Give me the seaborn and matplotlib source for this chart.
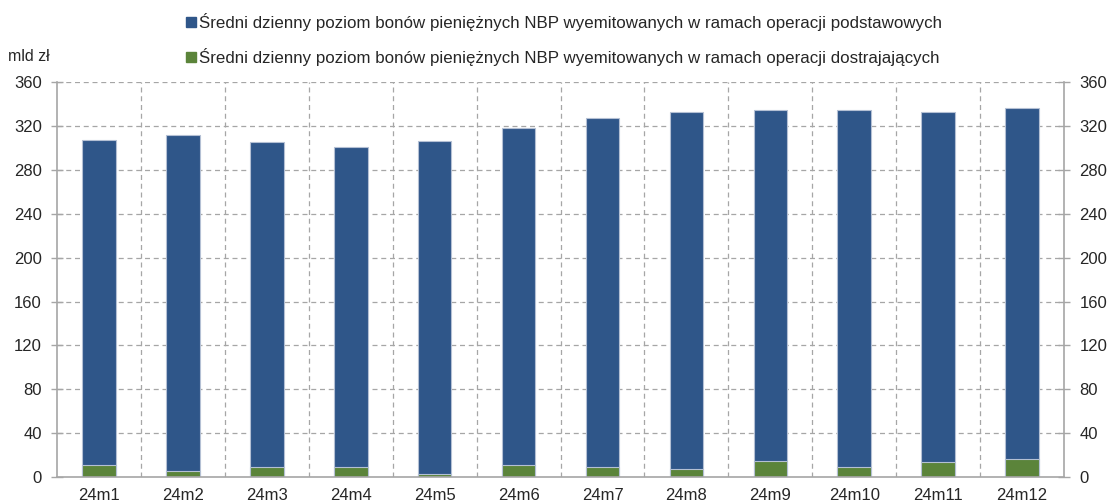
import pandas as pd
import matplotlib.pyplot as plt
import matplotlib.patches as mpatches
import seaborn as sns

# Dane (mld zł)
miesiace = ['24m1', '24m2', '24m3', '24m4', '24m5', '24m6',
            '24m7', '24m8', '24m9', '24m10', '24m11', '24m12']
dostrajajace = [11, 5.5, 9.5, 9.5, 2.7, 10.7, 8.8, 7, 14.6, 8.8, 13.7, 16.1]
podstawowe = [296, 306.5, 295.5, 291.5, 303.3, 307.3, 318.2, 326, 320.4, 326.2, 319.3, 319.9]

etykieta_pod = 'Średni dzienny poziom bonów pieniężnych NBP wyemitowanych w ramach operacji podstawowych'
etykieta_dos = 'Średni dzienny poziom bonów pieniężnych NBP wyemitowanych w ramach operacji dostrajających'

kolor_pod = '#2f5689'
kolor_dos = '#5b843a'
kolor_siatki = '#a6a6a6'

df = pd.DataFrame({'miesiac': miesiace, 'dostrajajace': dostrajajace, 'podstawowe': podstawowe})
df['razem'] = df['dostrajajace'] + df['podstawowe']

sns.set_theme(style='white')
plt.rcParams['font.family'] = ['Liberation Sans', 'DejaVu Sans']

fig, ax = plt.subplots(figsize=(11.1, 5.04), dpi=100)
fig.subplots_adjust(left=0.0514, right=0.9586, top=0.837, bottom=0.0536)

# Słupki skumulowane: całość na niebiesko, część dostrajająca na zielono
sns.barplot(data=df, x='miesiac', y='razem', color=kolor_pod, width=0.4,
            saturation=1, edgecolor='#b4c0d4', linewidth=0.8, ax=ax)
sns.barplot(data=df, x='miesiac', y='dostrajajace', color=kolor_dos, width=0.4,
            saturation=1, edgecolor='#b4c0d4', linewidth=0.8, ax=ax)

ax.set_ylim(0, 360)
ax.set_xlim(-0.5, len(miesiace) - 0.5)
ax.set_yticks(range(0, 361, 40))
ax.set_xlabel('')
ax.set_ylabel('')

# Siatka przerywana
for y in range(40, 361, 40):
    ax.axhline(y, color=kolor_siatki, linestyle=(0, (4, 3)), linewidth=0.9, zorder=0)
for x in range(1, len(miesiace)):
    ax.axvline(x - 0.5, color=kolor_siatki, linestyle=(0, (4, 3)), linewidth=0.9, zorder=0)
ax.set_axisbelow(True)

ax.spines['top'].set_visible(False)
for s in ['left', 'right', 'bottom']:
    ax.spines[s].set_color(kolor_siatki)
    ax.spines[s].set_linewidth(1.2)

ax.tick_params(axis='y', which='both', left=True, right=True, labelleft=True, labelright=True,
               direction='inout', length=8, width=1, color=kolor_siatki, labelsize=12, pad=7)
ax.set_xticks(range(len(miesiace)))
ax.set_xticklabels(miesiace)
ax.tick_params(axis='x', length=0, labelsize=12, pad=8)
ax.set_xticks([i - 0.5 for i in range(len(miesiace) + 1)], minor=True)
ax.tick_params(axis='x', which='minor', length=6, width=1, color=kolor_siatki, direction='out')

fig.text(0.007, 0.887, 'mld zł', fontsize=11.5, ha='left', va='center')

for kolor, etykieta, y in [(kolor_pod, etykieta_pod, 0.957), (kolor_dos, etykieta_dos, 0.887)]:
    uchwyt = [mpatches.Patch(color=kolor, label=etykieta)]
    fig.legend(handles=uchwyt, loc='center left', bbox_to_anchor=(0.168, y), frameon=False,
               fontsize=12.2, handlelength=0.55, handleheight=0.55, handletextpad=0.2,
               borderaxespad=0, borderpad=0)

plt.savefig('out.png', dpi=100)
